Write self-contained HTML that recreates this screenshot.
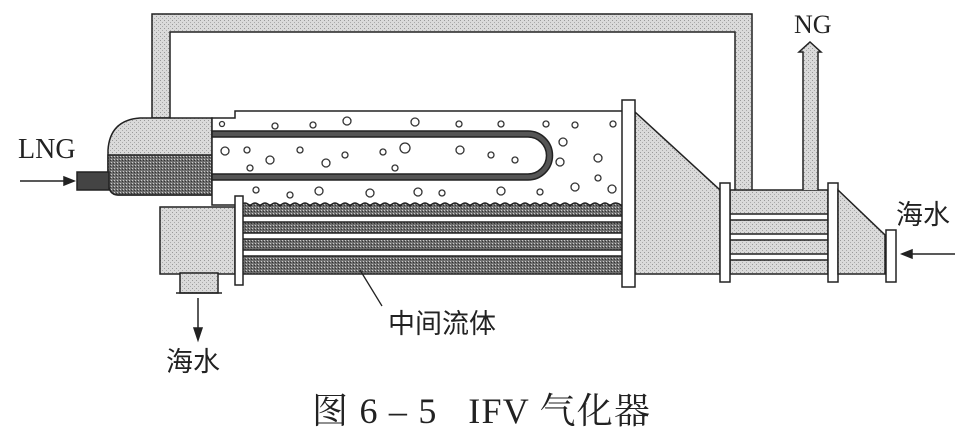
<!DOCTYPE html>
<html><head><meta charset="utf-8"><style>
html,body{margin:0;padding:0;background:#fff;}
svg{display:block;}
text{font-family:"Liberation Serif","Noto Serif CJK SC",serif;fill:#222;}
.cj{font-family:"Liberation Sans","Noto Sans CJK SC",sans-serif;}
</style></head><body>
<svg width="978" height="442" viewBox="0 0 978 442" xmlns="http://www.w3.org/2000/svg">
<defs>
<pattern id="lt" width="4" height="4" patternUnits="userSpaceOnUse"><rect width="4" height="4" fill="#dadada"/><rect x="0" y="0" width="1" height="1" fill="#999"/><rect x="2" y="2" width="1" height="1" fill="#aaa"/></pattern>
<pattern id="dk" width="3" height="3" patternUnits="userSpaceOnUse"><rect width="3" height="3" fill="#6e6e6e"/><rect x="0" y="0" width="1" height="1" fill="#ccc"/><rect x="2" y="1" width="1" height="1" fill="#333"/></pattern>
</defs>
<g stroke="#222" stroke-width="1.5">
<path d="M152 14 H752 V192 H735 V32 H170 V118 H152 Z" fill="url(#lt)"/>
<path d="M212 118 V195 H118 Q108 195 108 170 V150 Q110 120 140 118 Z" fill="url(#lt)"/>
<path d="M108 155 H212 V195 H118 Q108 195 108 180 Z" fill="url(#dk)"/>
<rect x="77" y="172" width="32" height="18" fill="#444"/>
<path d="M212 118 H235 V111 H624 V205 H212 Z" fill="#fff"/>
<path d="M212 131 H528 A24.5 24.5 0 0 1 528 180 H212 V174 H528 A18.5 18.5 0 0 0 528 137 H212 Z" fill="#555"/>
<path d="M240 206 Q245 200 250 206 Q255 200 260 206 Q265 200 270 206 Q275 200 280 206 Q285 200 290 206 Q295 200 300 206 Q305 200 310 206 Q315 200 320 206 Q325 200 330 206 Q335 200 340 206 Q345 200 350 206 Q355 200 360 206 Q365 200 370 206 Q375 200 380 206 Q385 200 390 206 Q395 200 400 206 Q405 200 410 206 Q415 200 420 206 Q425 200 430 206 Q435 200 440 206 Q445 200 450 206 Q455 200 460 206 Q465 200 470 206 Q475 200 480 206 Q485 200 490 206 Q495 200 500 206 Q505 200 510 206 Q515 200 520 206 Q525 200 530 206 Q535 200 540 206 Q545 200 550 206 Q555 200 560 206 Q565 200 570 206 Q575 200 580 206 Q585 200 590 206 Q595 200 600 206 Q605 200 610 206 Q615 200 622 206 V274 H240 Z" fill="url(#dk)"/>
<rect x="240" y="216" width="385" height="6" fill="#fff"/>
<rect x="240" y="233" width="385" height="6" fill="#fff"/>
<rect x="240" y="250" width="385" height="6" fill="#fff"/>
<rect x="160" y="207" width="75" height="67" fill="url(#lt)"/>
<rect x="180" y="273" width="38" height="20" fill="url(#lt)"/>
<line x1="176" y1="293" x2="222" y2="293"/>
<rect x="235" y="196" width="8" height="89" fill="#fff"/>
<path d="M635 112 L720 190 V274 H635 Z" fill="url(#lt)"/>
<rect x="622" y="100" width="13" height="187" fill="#fff"/>
<rect x="730" y="190" width="98" height="84" fill="url(#lt)"/>
<rect x="730" y="214" width="98" height="6" fill="#fff"/>
<rect x="730" y="234" width="98" height="6" fill="#fff"/>
<rect x="730" y="254" width="98" height="6" fill="#fff"/>
<rect x="720" y="183" width="10" height="99" fill="#fff"/>
<rect x="828" y="183" width="10" height="99" fill="#fff"/>
<path d="M803 190 V52 H799 L810 42 L821 52 H818 V190" fill="url(#lt)"/>
<path d="M838 190 L885 235 V274 H838 Z" fill="url(#lt)"/>
<rect x="886" y="230" width="10" height="52" fill="#fff"/>
</g>
<g fill="#fff" stroke="#333" stroke-width="1.3">
<circle cx="222" cy="124" r="2.5"/><circle cx="275" cy="126" r="3"/><circle cx="313" cy="125" r="3"/><circle cx="347" cy="121" r="4"/><circle cx="415" cy="122" r="4"/><circle cx="459" cy="124" r="3"/><circle cx="501" cy="124" r="3"/><circle cx="546" cy="124" r="3"/><circle cx="575" cy="125" r="3"/><circle cx="613" cy="124" r="3"/>
<circle cx="225" cy="151" r="4"/><circle cx="270" cy="160" r="4"/><circle cx="326" cy="163" r="4"/><circle cx="383" cy="152" r="3"/><circle cx="405" cy="148" r="5"/><circle cx="460" cy="150" r="4"/><circle cx="515" cy="160" r="3"/><circle cx="563" cy="142" r="4"/><circle cx="560" cy="162" r="4"/><circle cx="598" cy="158" r="4"/><circle cx="247" cy="150" r="3"/><circle cx="300" cy="150" r="3"/><circle cx="345" cy="155" r="3"/><circle cx="491" cy="155" r="3"/>
<circle cx="256" cy="190" r="3"/><circle cx="319" cy="191" r="4"/><circle cx="370" cy="193" r="4"/><circle cx="418" cy="192" r="4"/><circle cx="501" cy="191" r="4"/><circle cx="575" cy="187" r="4"/><circle cx="612" cy="189" r="4"/><circle cx="290" cy="195" r="3"/><circle cx="442" cy="193" r="3"/><circle cx="540" cy="192" r="3"/><circle cx="250" cy="168" r="3"/><circle cx="395" cy="168" r="3"/><circle cx="598" cy="178" r="3"/>
</g>
<g stroke="#222" stroke-width="1.5" fill="#222">
<line x1="20" y1="181" x2="66" y2="181"/><path d="M74 181 L64 177 L64 185 Z"/>
<line x1="955" y1="254" x2="910" y2="254"/><path d="M902 254 L912 250 L912 258 Z"/>
<line x1="198" y1="298" x2="198" y2="330"/><path d="M198 340 L194 328 L202 328 Z"/>
<line x1="360" y1="270" x2="382" y2="306" stroke-width="1.3"/>
</g>
<text x="18" y="158" font-size="28">LNG</text>
<text x="794" y="33" font-size="26">NG</text>
<text class="cj" x="896" y="224" font-size="27">海水</text>
<text class="cj" x="166" y="371" font-size="27">海水</text>
<text class="cj" x="388" y="333" font-size="27">中间流体</text>
<text x="312" y="423" font-size="36" textLength="338" lengthAdjust="spacing" style="white-space:pre">图 6 – 5   IFV 气化器</text>
</svg>
</body></html>
